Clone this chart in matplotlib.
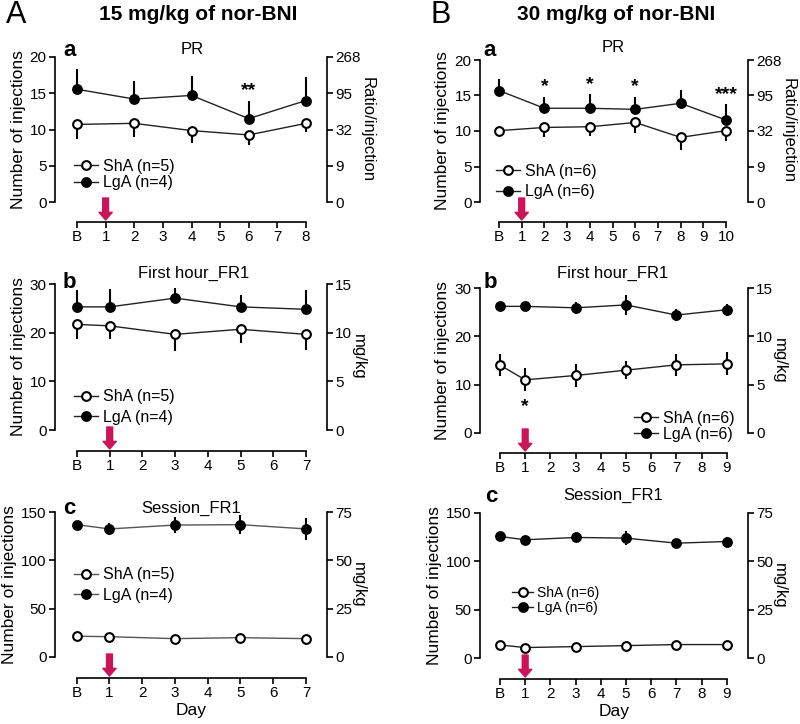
import matplotlib
matplotlib.use("Agg")
import matplotlib.pyplot as plt
import numpy as np

plt.rcParams['font.family'] = ['Liberation Sans', 'DejaVu Sans']

# ---------------- data ----------------
A_pr_days = [0, 2, 4, 6, 8]
A_pr_sha = [10.7, 10.85, 9.85, 9.25, 10.85]
A_pr_sha_err = [2.0, 1.85, 1.7, 1.4, 1.15]
A_pr_lga = [15.55, 14.2, 14.7, 11.5, 14.0]
A_pr_lga_err = [2.75, 2.55, 2.7, 2.5, 3.25]

B_pr_days = [0, 2, 4, 6, 8, 10]
B_pr_sha = [10.05, 10.5, 10.6, 11.2, 9.1, 10.05]
B_pr_sha_err = [0.4, 1.4, 1.3, 1.5, 1.75, 1.4]
B_pr_lga = [15.7, 13.2, 13.2, 13.05, 13.9, 11.55]
B_pr_lga_err = [1.65, 1.65, 2.0, 1.8, 1.9, 2.2]

A_fh_days = [0, 1, 3, 5, 7]
A_fh_sha = [21.7, 21.4, 19.65, 20.7, 19.65]
A_fh_sha_err = [3.0, 2.8, 3.35, 2.9, 3.25]
A_fh_lga = [25.3, 25.3, 27.1, 25.3, 24.8]
A_fh_lga_err = [3.5, 3.7, 2.1, 2.5, 3.9]

B_fh_days = [0, 1, 3, 5, 7, 9]
B_fh_sha = [14.05, 11.0, 11.9, 13.0, 14.1, 14.3]
B_fh_sha_err = [2.3, 2.4, 2.3, 1.8, 2.3, 2.4]
B_fh_lga = [26.2, 26.2, 25.9, 26.5, 24.4, 25.5]
B_fh_lga_err = [1.0, 0.8, 1.2, 2.0, 1.3, 1.2]

A_se_days = [0, 1, 3, 5, 7]
A_se_sha = [21.5, 21.0, 19.0, 20.0, 19.0]
A_se_sha_err = [1, 1, 1, 1, 1]
A_se_lga = [136.9, 132.5, 136.5, 136.9, 132.5]
A_se_lga_err = [3, 6, 8, 10, 11]

B_se_days = [0, 1, 3, 5, 7, 9]
B_se_sha = [13.5, 10.8, 11.8, 12.8, 13.9, 13.9]
B_se_sha_err = [1, 1, 1, 1, 1, 1]
B_se_lga = [125.7, 122.3, 124.7, 124.0, 118.8, 120.5]
B_se_lga_err = [2, 2, 3, 7, 3, 5]

pr_left_ticks = [0, 5, 10, 15, 20]
pr_right_labels = ['0', '9', '32', '95', '268']
fh_left_ticks = [0, 10, 20, 30]
fh_right_ticks = [0, 5, 10, 15]
se_left_ticks = [0, 50, 100, 150]
se_right_ticks = [0, 25, 50, 75]

W, H = 800, 724
fig = plt.figure(figsize=(8, 7.24), dpi=100)
ARROW = '#CC1459'
FS = 11


def panel(left, right, top, zero, axis_y, xfirst, xlast, lastday, ymax,
          days, sha, sha_e, lga, lga_e, both, ylticks, yrticks, yrlabels,
          rlabel, letter, title, leg_n, leg_pos, leg_fs=11.5, xlabel=None,
          letter_xy=None, title_y=None, line_color='#222222'):
    step = (xlast - xfirst) / lastday
    xmin = (left - xfirst) / step
    xmax = (right - xfirst) / step
    h = zero - top
    ax = fig.add_axes([left / W, 1 - zero / H, (right - left) / W, h / H])
    ax.set_xlim(xmin, xmax)
    ax.set_ylim(0, ymax)
    ax.patch.set_alpha(0)
    for s in ['top', 'right']:
        ax.spines[s].set_visible(False)
    ax.spines['left'].set_bounds(0, ymax)
    ax.spines['bottom'].set_position(('outward', (axis_y - zero) * 0.72))
    ax.spines['bottom'].set_bounds(0, lastday)
    for s in ['left', 'bottom']:
        ax.spines[s].set_linewidth(1.2)
    ax.set_xticks(range(lastday + 1))
    ax.set_xticklabels(['B'] + [str(i) for i in range(1, lastday + 1)], fontsize=FS)
    ax.set_yticks(ylticks)
    ax.set_yticklabels([str(t) for t in ylticks], fontsize=FS)
    ax.tick_params(direction='out', length=4, width=1.2, pad=2)
    ax.set_ylabel('Number of injections', fontsize=12.5, labelpad=3)

    # error bars
    sha = np.array(sha); lga = np.array(lga)
    sha_e = np.array(sha_e); lga_e = np.array(lga_e)
    if both:
        ax.vlines(days, sha - sha_e, sha + sha_e, colors='black', lw=1.5, zorder=2, clip_on=False)
        ax.vlines(days, lga - lga_e, lga + lga_e, colors='black', lw=1.5, zorder=2, clip_on=False)
    else:
        ax.vlines(days, sha - sha_e, sha, colors='black', lw=1.5, zorder=2, clip_on=False)
        ax.vlines(days, lga, lga + lga_e, colors='black', lw=1.5, zorder=2, clip_on=False)
    ax.plot(days, sha, '-o', color=line_color, lw=1.0, ms=6.3, mfc='white', mec='black',
            mew=1.5, zorder=3, clip_on=False, label='ShA (n=%d)' % leg_n[0])
    ax.plot(days, lga, '-o', color=line_color, lw=1.0, ms=6.3, mfc='black', mec='black',
            mew=1.5, zorder=3, clip_on=False, label='LgA (n=%d)' % leg_n[1])
    ax.legend(loc=leg_pos[0], bbox_to_anchor=leg_pos[1], frameon=False,
              fontsize=leg_fs, handlelength=1.5, handletextpad=0.3,
              labelspacing=leg_pos[2], borderaxespad=0, borderpad=0)

    # arrow at day 1
    base = -(axis_y - zero) / h
    ax.annotate('', xy=(1, base + 2 / h), xytext=(1, base + 24 / h),
                xycoords=('data', 'axes fraction'),
                arrowprops=dict(arrowstyle='simple,head_length=0.55,head_width=0.95,tail_width=0.42',
                                color=ARROW, shrinkA=0, shrinkB=0, mutation_scale=10),
                annotation_clip=False)

    # right axis
    ax2 = ax.twinx()
    ax2.set_ylim(0, ymax)
    ax2.set_xlim(xmin, xmax)
    for s in ['top', 'left', 'bottom']:
        ax2.spines[s].set_visible(False)
    ax2.spines['right'].set_bounds(0, ymax)
    ax2.spines['right'].set_linewidth(1.2)
    ax2.set_yticks(ylticks)
    ax2.set_yticklabels(yrlabels, fontsize=FS)
    ax2.tick_params(direction='out', length=4, width=1.2, pad=2)
    ax2.set_ylabel(rlabel, rotation=270, fontsize=12, labelpad=10)

    lx, ly = letter_xy
    fig.text(lx / W, 1 - ly / H, letter, fontsize=16, fontweight='bold', va='center', ha='left')
    fig.text(title[1] / W, 1 - title_y / H, title[0], fontsize=12, va='center', ha='center')
    if xlabel:
        ax.set_xlabel(xlabel, fontsize=12.5, labelpad=2)
    return ax


# A-a
axAa = panel(55, 327, 57, 202, 222, 77, 306, 8, 20,
             A_pr_days, A_pr_sha, A_pr_sha_err, A_pr_lga, A_pr_lga_err, False,
             pr_left_ticks, pr_left_ticks, pr_right_labels, 'Ratio/injection',
             'a', ('PR', 192), (5, 4), ('upper left', (0.07, 0.30), 0.12),
             letter_xy=(63, 50), title_y=49)
axAa.text(6, A_pr_lga[3] + A_pr_lga_err[3] + 0.2, '**', ha='center', va='bottom', fontsize=14, fontweight='bold')

# B-a
axBa = panel(480, 748, 60, 202, 222, 499, 726, 10, 20,
             B_pr_days, B_pr_sha, B_pr_sha_err, B_pr_lga, B_pr_lga_err, False,
             pr_left_ticks, pr_left_ticks, pr_right_labels, 'Ratio/injection',
             'a', ('PR', 613), (6, 6), ('upper left', (0.06, 0.27), 0.35),
             letter_xy=(483, 50), title_y=48)
for i in [1, 2, 3]:
    axBa.text(B_pr_days[i], B_pr_lga[i] + B_pr_lga_err[i] + 0.2, '*', ha='center', va='bottom', fontsize=14, fontweight='bold')
axBa.text(B_pr_days[5], B_pr_lga[5] + B_pr_lga_err[5] + 0.2, '***', ha='center', va='bottom', fontsize=14, fontweight='bold')

# A-b
panel(55, 327, 284, 430, 451, 77, 306, 7, 30,
      A_fh_days, A_fh_sha, A_fh_sha_err, A_fh_lga, A_fh_lga_err, False,
      fh_left_ticks, fh_right_ticks, [str(t) for t in fh_right_ticks], 'mg/kg',
      'b', ('First hour_FR1', 194), (5, 4), ('upper left', (0.07, 0.28), 0.35),
      letter_xy=(63, 283), title_y=273)

# B-b
axBb = panel(480, 748, 288, 433, 453, 500, 726.7, 9, 30,
             B_fh_days, B_fh_sha, B_fh_sha_err, B_fh_lga, B_fh_lga_err, True,
             fh_left_ticks, fh_right_ticks, [str(t) for t in fh_right_ticks], 'mg/kg',
             'b', ('First hour_FR1', 613), (6, 6), ('lower right', (0.95, -0.06), 0.05),
             letter_xy=(484, 282), title_y=273)
axBb.text(1, B_fh_sha[1] - B_fh_sha_err[1] - 1.3, '*', ha='center', va='top', fontsize=14, fontweight='bold')

# A-c
panel(55, 327, 512, 657, 678, 76.7, 306, 7, 150,
      A_se_days, A_se_sha, A_se_sha_err, A_se_lga, A_se_lga_err, True,
      se_left_ticks, se_right_ticks, [str(t) for t in se_right_ticks], 'mg/kg',
      'c', ('Session_FR1', 191), (5, 4), ('upper left', (0.07, 0.62), 0.35),
      xlabel='Day', letter_xy=(63, 508), title_y=508, line_color='#555555')

# B-c
panel(480, 748, 513, 658, 679, 500, 726.7, 9, 150,
      B_se_days, B_se_sha, B_se_sha_err, B_se_lga, B_se_lga_err, True,
      se_left_ticks, se_right_ticks, [str(t) for t in se_right_ticks], 'mg/kg',
      'c', ('Session_FR1', 613), (6, 6), ('upper left', (0.12, 0.50), 0.1), leg_fs=10,
      xlabel='Day', letter_xy=(485, 497), title_y=495)

# headers
fig.text(6 / W, 1 - 15 / H, 'A', fontsize=22, va='center', ha='left')
fig.text(198 / W, 1 - 14 / H, '15 mg/kg of nor-BNI', fontsize=15, fontweight='bold', va='center', ha='center')
fig.text(431 / W, 1 - 15 / H, 'B', fontsize=22, va='center', ha='left')
fig.text(616 / W, 1 - 14 / H, '30 mg/kg of nor-BNI', fontsize=15, fontweight='bold', va='center', ha='center')

fig.savefig('out.png', dpi=100)
